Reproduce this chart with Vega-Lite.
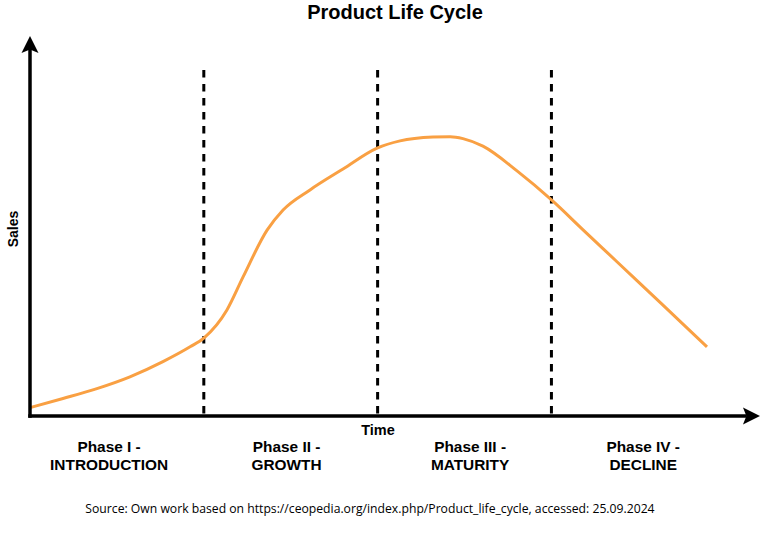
{
  "$schema": "https://vega.github.io/schema/vega-lite/v6.json",
  "width": 730,
  "height": 380,
  "autosize": {"type": "none"},
  "padding": {"left": 30, "top": 36, "right": 8, "bottom": 119},
  "background": "white",
  "config": {"view": {"stroke": null}},
  "title": {
    "text": "Product Life Cycle",
    "font": "Liberation Sans",
    "fontSize": 20,
    "fontWeight": "bold",
    "color": "black",
    "anchor": "middle",
    "frame": "group",
    "baseline": "alphabetic",
    "offset": 15.5,
    "dy": 18.5
  },
  "layer": [
    {
      "data": {"values": [{"t": 1}, {"t": 2}, {"t": 3}]},
      "mark": {"type": "rule", "color": "black", "strokeWidth": 3, "strokeDash": [7.5, 6.5]},
      "encoding": {
        "x": {"field": "t", "type": "quantitative", "scale": {"domain": [0, 4.2], "nice": false, "zero": false}, "axis": null},
        "y": {"datum": 91.05, "type": "quantitative", "scale": {"domain": [0, 100], "nice": false, "zero": false}, "axis": null},
        "y2": {"datum": 0}
      }
    },
    {
      "data": {"values": [
        {"t": 0, "s": 2.2},
        {"t": 0.19, "s": 4.6},
        {"t": 0.385, "s": 7.2},
        {"t": 0.575, "s": 10.3},
        {"t": 0.765, "s": 14.3},
        {"t": 0.921, "s": 18.2},
        {"t": 1.0, "s": 20.5},
        {"t": 1.133, "s": 27.9},
        {"t": 1.226, "s": 36.6},
        {"t": 1.364, "s": 48.9},
        {"t": 1.456, "s": 54.2},
        {"t": 1.611, "s": 59.5},
        {"t": 1.801, "s": 65.0},
        {"t": 1.997, "s": 70.5},
        {"t": 2.129, "s": 72.4},
        {"t": 2.319, "s": 73.4},
        {"t": 2.417, "s": 73.5},
        {"t": 2.491, "s": 73.0},
        {"t": 2.606, "s": 71.0},
        {"t": 2.802, "s": 64.5},
        {"t": 3.002, "s": 56.8},
        {"t": 3.182, "s": 49.0},
        {"t": 3.377, "s": 40.6},
        {"t": 3.567, "s": 32.4},
        {"t": 3.757, "s": 24.2},
        {"t": 3.895, "s": 18.2}
      ]},
      "mark": {"type": "line", "color": "#F9A043", "strokeWidth": 3, "interpolate": "monotone"},
      "encoding": {
        "x": {"field": "t", "type": "quantitative"},
        "y": {"field": "s", "type": "quantitative"}
      }
    },
    {
      "data": {"values": [
        {"t": 0, "s": 0, "t2": 0, "s2": 96.5},
        {"t": 0, "s": 0, "t2": 4.114, "s2": 0}
      ]},
      "mark": {"type": "rule", "color": "black", "strokeWidth": 3.5, "strokeCap": "square"},
      "encoding": {
        "x": {"field": "t", "type": "quantitative"},
        "y": {"field": "s", "type": "quantitative"},
        "x2": {"field": "t2"},
        "y2": {"field": "s2"}
      }
    },
    {
      "data": {"values": [
        {"t": 0, "s": 97.76, "dir": "up"},
        {"t": 4.151, "s": 0, "dir": "right"}
      ]},
      "mark": {"type": "point", "filled": true, "color": "black", "opacity": 1, "size": 289, "strokeWidth": 0},
      "encoding": {
        "x": {"field": "t", "type": "quantitative"},
        "y": {"field": "s", "type": "quantitative"},
        "shape": {
          "field": "dir",
          "type": "nominal",
          "legend": null,
          "scale": {"domain": ["up", "right"], "range": ["M0,-1L1,1L0,0.6L-1,1Z", "M1,0L-1,-1L-0.6,0L-1,1Z"]}
        }
      }
    },
    {
      "data": {"values": [
        {"t": 0.455, "s": -9.47, "label": "Phase I -\nINTRODUCTION"},
        {"t": 1.476, "s": -9.47, "label": "Phase II -\nGROWTH"},
        {"t": 2.532, "s": -9.47, "label": "Phase III -\nMATURITY"},
        {"t": 3.528, "s": -9.47, "label": "Phase IV -\nDECLINE"}
      ]},
      "mark": {"type": "text", "font": "Liberation Sans", "fontSize": 15.4, "fontWeight": "bold", "color": "black", "align": "center", "baseline": "alphabetic", "lineBreak": "\n", "lineHeight": 18.5},
      "encoding": {
        "x": {"field": "t", "type": "quantitative"},
        "y": {"field": "s", "type": "quantitative"},
        "text": {"field": "label"}
      }
    },
    {
      "data": {"values": [{"t": 2.002, "s": -5.0, "label": "Time"}]},
      "mark": {"type": "text", "font": "Liberation Sans", "fontSize": 14.5, "fontWeight": "bold", "color": "black", "align": "center", "baseline": "alphabetic"},
      "encoding": {
        "x": {"field": "t", "type": "quantitative"},
        "y": {"field": "s", "type": "quantitative"},
        "text": {"field": "label"}
      }
    },
    {
      "data": {"values": [{"t": -0.092, "s": 49.2, "label": "Sales"}]},
      "mark": {"type": "text", "font": "Liberation Sans", "fontSize": 14, "fontWeight": "bold", "color": "black", "align": "center", "baseline": "middle", "angle": 270},
      "encoding": {
        "x": {"field": "t", "type": "quantitative"},
        "y": {"field": "s", "type": "quantitative"},
        "text": {"field": "label"}
      }
    },
    {
      "data": {"values": [{"t": 1.956, "s": -25.6, "label": "Source: Own work based on https://ceopedia.org/index.php/Product_life_cycle, accessed: 25.09.2024"}]},
      "mark": {"type": "text", "font": "Open Sans", "fontSize": 12.2, "color": "black", "align": "center", "baseline": "alphabetic"},
      "encoding": {
        "x": {"field": "t", "type": "quantitative"},
        "y": {"field": "s", "type": "quantitative"},
        "text": {"field": "label"}
      }
    }
  ]
}
